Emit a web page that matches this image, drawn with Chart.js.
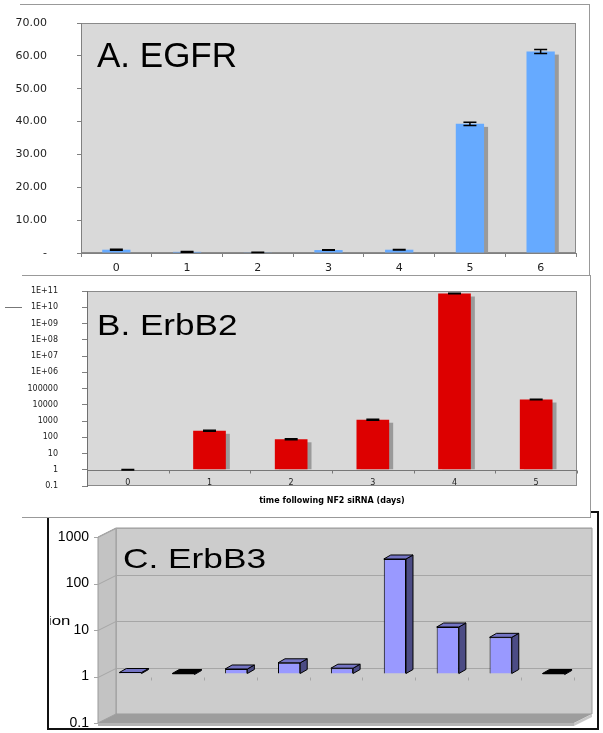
<!DOCTYPE html>
<html>
<head>
<meta charset="utf-8">
<script src="https://cdn.jsdelivr.net/npm/chart.js@4.4.1/dist/chart.umd.min.js"></script>
<style>
body { margin: 0; background: #fff; width: 603px; height: 733px; position: relative; overflow: hidden; }
.box { position: absolute; box-sizing: border-box; }
canvas { position: absolute; }
</style>
</head>
<body>
<div class="box" style="left:47px;top:511px;width:552px;height:219px;border:2px solid #111;"></div>
<canvas id="chartC" width="546" height="216" style="left:50px;top:513px;"></canvas>
<div class="box" style="left:22px;top:275px;width:569px;height:243px;border:1px solid #999;border-left:none;background:#fff;"></div>
<canvas id="chartB" width="603" height="242" style="left:0;top:275px;"></canvas>
<div class="box" style="left:20px;top:4px;width:570px;height:272px;border-top:1px solid #999;border-right:1px solid #999;"></div>
<canvas id="chartA" width="603" height="275" style="left:0;top:0;"></canvas>
<div class="box" style="left:5px;top:307px;width:17px;height:1px;background:#777;"></div>

<script>
// A. EGFR
const egfrDays = ['0', '1', '2', '3', '4', '5', '6'];
const egfrValues = [1.0, 0.35, 0.2, 0.9, 1.0, 39.3, 61.3];
const egfrErrors = [0.15, 0.1, 0.05, 0.1, 0.1, 0.5, 0.6];
const egfrTickLabels = ['-', '10.00', '20.00', '30.00', '40.00', '50.00', '60.00', '70.00'];

// B. ErbB2
const erbb2Days = ['0', '1', '2', '3', '4', '5'];
const erbb2Values = [1, 250, 75, 1200, 7e10, 21000];
const erbb2Errors = [0.05, 20, 5, 80, 3e9, 1000];
const erbb2TickValues = [0.1, 1, 10, 100, 1000, 1e4, 1e5, 1e6, 1e7, 1e8, 1e9, 1e10, 1e11];
const erbb2TickLabels = ['0.1', '1', '10', '100', '1000', '10000', '100000', '1E+06', '1E+07', '1E+08', '1E+09', '1E+10', '1E+11'];
const erbb2AxisTitle = 'time following NF2 siRNA (days)';

// C. ErbB3
const erbb3Samples = ['1', '2', '3', '4', '5', '6', '7', '8', '9'];
const erbb3Values = [1.05, 0.95, 1.25, 1.7, 1.3, 290, 10, 6, 0.95];
const erbb3TickValues = [0.1, 1, 10, 100, 1000];
const erbb3TickLabels = ['0.1', '1', '10', '100', '1000'];

const sans = '"Liberation Sans", Arial, sans-serif';

function poly(ctx, pts, fill, stroke) {
    ctx.beginPath();
    ctx.moveTo(pts[0][0], pts[0][1]);
    pts.slice(1).forEach(p => ctx.lineTo(p[0], p[1]));
    ctx.closePath();
    if (fill) { ctx.fillStyle = fill; ctx.fill(); }
    if (stroke) { ctx.strokeStyle = stroke; ctx.lineWidth = 1; ctx.stroke(); }
}

// fixed axis width, and no extra room for half labels at the ends
function fixWidth(w) {
    return s => { s.width = w; s.paddingTop = 0; s.paddingBottom = 0; };
}

// big panel letters and stray text
const texts = {
    id: 'texts',
    afterDraw(chart, args, opts) {
        const ctx = chart.ctx;
        opts.items.forEach(t => {
            ctx.save();
            ctx.translate(t.x, t.y);
            ctx.scale(t.sx || 1, 1);
            ctx.font = t.size + 'px ' + sans;
            ctx.fillStyle = '#000';
            ctx.textBaseline = 'alphabetic';
            ctx.fillText(t.text, 0, 0);
            ctx.restore();
        });
    }
};

const plotBox = {
    id: 'plotBox',
    beforeDraw(chart, args, opts) {
        const { ctx, chartArea: a } = chart;
        ctx.save();
        ctx.fillStyle = opts.fill;
        ctx.fillRect(a.left, a.top, a.right - a.left, a.bottom - a.top);
        ctx.strokeStyle = opts.edge;
        ctx.lineWidth = 1;
        ctx.strokeRect(a.left + 0.5, a.top + 0.5, a.right - a.left - 1, a.bottom - a.top - 1);
        ctx.restore();
    }
};

const barShadow = {
    id: 'barShadow',
    beforeDatasetsDraw(chart, args, opts) {
        const ctx = chart.ctx;
        ctx.save();
        ctx.fillStyle = opts.color;
        chart.getDatasetMeta(0).data.forEach(bar => {
            const p = bar.getProps(['x', 'y', 'base', 'width'], true);
            const top = Math.min(p.y, p.base), bot = Math.max(p.y, p.base);
            if (bot - top > opts.dy) {
                ctx.fillRect(p.x - p.width / 2 + opts.dx, top + opts.dy, p.width, bot - top - opts.dy);
            }
        });
        ctx.restore();
    }
};

// axis line drawn at a value (ErbB2 crosses at 1)
const baseLine = {
    id: 'baseLine',
    beforeDatasetsDraw(chart, args, opts) {
        const { ctx, chartArea: a, scales: { x, y } } = chart;
        const py = Math.round(y.getPixelForValue(opts.value)) + 0.5;
        ctx.save();
        ctx.strokeStyle = opts.color;
        ctx.lineWidth = 1;
        ctx.beginPath();
        ctx.moveTo(a.left, py);
        ctx.lineTo(a.right, py);
        const step = (a.right - a.left) / x.ticks.length;
        for (let i = 1; i <= x.ticks.length; i++) {
            const px = Math.round(a.left + i * step) + 0.5;
            ctx.moveTo(px, py);
            ctx.lineTo(px, py + 3);
        }
        ctx.stroke();
        ctx.restore();
    }
};

const errorBars = {
    id: 'errorBars',
    afterDatasetsDraw(chart, args, opts) {
        const ctx = chart.ctx, y = chart.scales.y;
        const vals = chart.data.datasets[0].data;
        ctx.save();
        ctx.strokeStyle = '#000';
        ctx.lineWidth = 1.5;
        chart.getDatasetMeta(0).data.forEach((bar, i) => {
            const hi = y.getPixelForValue(vals[i] + opts.errors[i]);
            const lo = y.getPixelForValue(vals[i] - opts.errors[i]);
            const h = opts.cap / 2;
            ctx.beginPath();
            ctx.moveTo(bar.x, hi); ctx.lineTo(bar.x, lo);
            ctx.moveTo(bar.x - h, hi); ctx.lineTo(bar.x + h, hi);
            ctx.moveTo(bar.x - h, lo); ctx.lineTo(bar.x + h, lo);
            ctx.stroke();
        });
        ctx.restore();
    }
};

// fake 3D walls and bar faces for ErbB3
const box3d = {
    id: 'box3d',
    beforeDraw(chart, args, o) {
        const { ctx, chartArea: a, scales: { y } } = chart;
        const [fx, fy] = o.front, [bx, by] = o.back;
        ctx.save();
        poly(ctx, [[a.left + bx, a.top + by], [a.right + bx, a.top + by], [a.right + bx, a.bottom + by], [a.left + bx, a.bottom + by]], '#cccccc', '#9a9a9a');
        poly(ctx, [[a.left + fx, a.top + fy], [a.left + bx, a.top + by], [a.left + bx, a.bottom + by], [a.left + fx, a.bottom + fy]], '#c3c3c3', '#9a9a9a');
        poly(ctx, [[a.left + fx, a.bottom + fy], [a.left + bx, a.bottom + by], [a.right + bx, a.bottom + by], [a.right + fx, a.bottom + fy]], '#9d9d9d');
        poly(ctx, [[a.left + fx, a.bottom + fy], [a.right + fx, a.bottom + fy], [a.right + fx, a.bottom + fy + 3], [a.left + fx, a.bottom + fy + 3]], '#b4b4b4');
        poly(ctx, [[a.right + fx, a.bottom + fy], [a.right + bx, a.bottom + by], [a.right + bx, a.bottom + by + 3], [a.right + fx, a.bottom + fy + 3]], '#c8c8c8');
        ctx.strokeStyle = '#a6a6a6';
        ctx.lineWidth = 1;
        o.ticks.forEach(v => {
            const py = Math.round(y.getPixelForValue(v)) + 0.5;
            ctx.beginPath();
            ctx.moveTo(a.left + fx - 4, py + fy);
            ctx.lineTo(a.left + fx, py + fy);
            if (v > o.ticks[0]) {
                ctx.lineTo(a.left + bx, py + by);
                ctx.lineTo(a.right + bx, py + by);
            }
            ctx.stroke();
        });
        // small category ticks in front of the bars
        const py1 = Math.round(y.getPixelForValue(1)) + 0.5 + fy;
        const n = chart.data.labels.length, step = (a.right - a.left) / n;
        ctx.beginPath();
        for (let i = 1; i <= n; i++) {
            const px = Math.round(a.left + fx + i * step) + 0.5;
            ctx.moveTo(px, py1); ctx.lineTo(px, py1 + 3);
        }
        ctx.stroke();
        ctx.restore();
    },
    afterDatasetsDraw(chart, args, o) {
        const ctx = chart.ctx;
        const vals = chart.data.datasets[0].data;
        const [dx, dy] = o.depth;
        ctx.save();
        chart.getDatasetMeta(0).data.forEach((bar, i) => {
            const p = bar.getProps(['x', 'y', 'base', 'width'], true);
            const l = p.x - p.width / 2, r = p.x + p.width / 2;
            const t = Math.min(p.y, p.base), b = Math.max(p.y, p.base);
            poly(ctx, [[r, t], [r + dx, t + dy], [r + dx, b + dy], [r, b]], o.side, '#000');
            poly(ctx, [[l, t], [l + dx, t + dy], [r + dx, t + dy], [r, t]], vals[i] < 1 ? '#000' : o.top, '#000');
        });
        ctx.restore();
    }
};

new Chart(document.getElementById('chartA'), {
    type: 'bar',
    data: {
        labels: egfrDays,
        datasets: [{
            data: egfrValues,
            backgroundColor: '#66aaff',
            barPercentage: 0.4,
            categoryPercentage: 1
        }]
    },
    options: {
        responsive: false,
        animation: false,
        layout: { padding: { left: 0, top: 23, right: 27, bottom: 0 } },
        plugins: {
            legend: { display: false },
            tooltip: { enabled: false },
            plotBox: { fill: '#d9d9d9', edge: '#8a8a8a' },
            barShadow: { color: '#9a9a9a', dx: 4, dy: 3 },
            errorBars: { errors: egfrErrors, cap: 13 },
            texts: { items: [{ text: 'A. EGFR', x: 97, y: 67, size: 35 }] }
        },
        scales: {
            x: {
                grid: { drawOnChartArea: false, tickLength: 4, color: '#808080' },
                border: { color: '#808080' },
                ticks: { padding: 5, color: '#222', font: { family: 'DejaVu Sans', size: 11 } },
                afterFit: s => { s.height = 22; }
            },
            y: {
                min: 0,
                max: 70,
                grid: { drawOnChartArea: false, tickLength: 4, color: '#808080' },
                border: { color: '#808080' },
                ticks: {
                    stepSize: 10,
                    padding: 30,
                    color: '#222',
                    font: { family: 'DejaVu Sans', size: 11 },
                    callback: (v, i) => egfrTickLabels[i]
                },
                afterFit: fixWidth(81)
            }
        }
    },
    plugins: [plotBox, barShadow, errorBars, texts]
});

new Chart(document.getElementById('chartB'), {
    type: 'bar',
    data: {
        labels: erbb2Days,
        datasets: [{
            data: erbb2Values,
            base: 1,
            backgroundColor: '#dd0000',
            barPercentage: 0.4,
            categoryPercentage: 1
        }]
    },
    options: {
        responsive: false,
        animation: false,
        layout: { padding: { left: 0, top: 16, right: 26, bottom: 0 } },
        plugins: {
            legend: { display: false },
            tooltip: { enabled: false },
            plotBox: { fill: '#d9d9d9', edge: '#8a8a8a' },
            barShadow: { color: '#9a9a9a', dx: 4, dy: 3 },
            baseLine: { value: 1, color: '#777' },
            errorBars: { errors: erbb2Errors, cap: 13 },
            texts: { items: [{ text: 'B. ErbB2', x: 97, y: 60, size: 30, sx: 1.17 }] }
        },
        scales: {
            x: {
                grid: { display: false, drawTicks: false },
                border: { display: false },
                ticks: { mirror: true, padding: -2, color: '#222', font: { family: 'DejaVu Sans', size: 8 } },
                title: {
                    display: true,
                    text: erbb2AxisTitle,
                    color: '#000',
                    font: { family: 'DejaVu Sans', size: 8, weight: 'bold' },
                    padding: { top: 0, bottom: 11 }
                },
                afterFit: s => { s.height = 31; }
            },
            y: {
                type: 'logarithmic',
                min: 0.1,
                max: 1e11,
                afterBuildTicks: s => { s.ticks = erbb2TickValues.map(v => ({ value: v })); },
                grid: { drawOnChartArea: false, tickLength: 5, color: '#808080' },
                border: { color: '#707070' },
                ticks: {
                    autoSkip: false,
                    padding: 24,
                    color: '#222',
                    font: { family: 'DejaVu Sans', size: 8 },
                    callback: (v, i) => erbb2TickLabels[i]
                },
                afterFit: fixWidth(87)
            }
        }
    },
    plugins: [plotBox, barShadow, baseLine, errorBars, texts]
});

new Chart(document.getElementById('chartC'), {
    type: 'bar',
    data: {
        labels: erbb3Samples,
        datasets: [{
            data: erbb3Values,
            base: 1,
            backgroundColor: '#9999ff',
            borderColor: '#000',
            borderWidth: 1,
            barPercentage: 0.42,
            categoryPercentage: 1
        }]
    },
    options: {
        responsive: false,
        animation: false,
        layout: { padding: { left: 0, top: 21, right: 16, bottom: 9 } },
        plugins: {
            legend: { display: false },
            tooltip: { enabled: false },
            box3d: { front: [-6, 3], back: [12, -6], depth: [7, -4], ticks: erbb3TickValues, top: '#7474c4', side: '#4c4c85' },
            texts: {
                items: [
                    { text: 'C. ErbB3', x: 73, y: 55, size: 28, sx: 1.26 },
                    { text: 'ion', x: -2, y: 112, size: 12, sx: 1.4 }
                ]
            }
        },
        scales: {
            x: { display: false },
            y: {
                type: 'logarithmic',
                min: 0.1,
                max: 1000,
                afterBuildTicks: s => { s.ticks = erbb3TickValues.map(v => ({ value: v })); },
                grid: { display: false, drawTicks: false },
                border: { display: false },
                ticks: {
                    autoSkip: false,
                    padding: 15,
                    labelOffset: 3,
                    color: '#000',
                    font: { family: 'Liberation Sans', size: 14 },
                    callback: (v, i) => erbb3TickLabels[i]
                },
                afterFit: fixWidth(54)
            }
        }
    },
    plugins: [box3d, texts]
});
</script>
</body>
</html>
